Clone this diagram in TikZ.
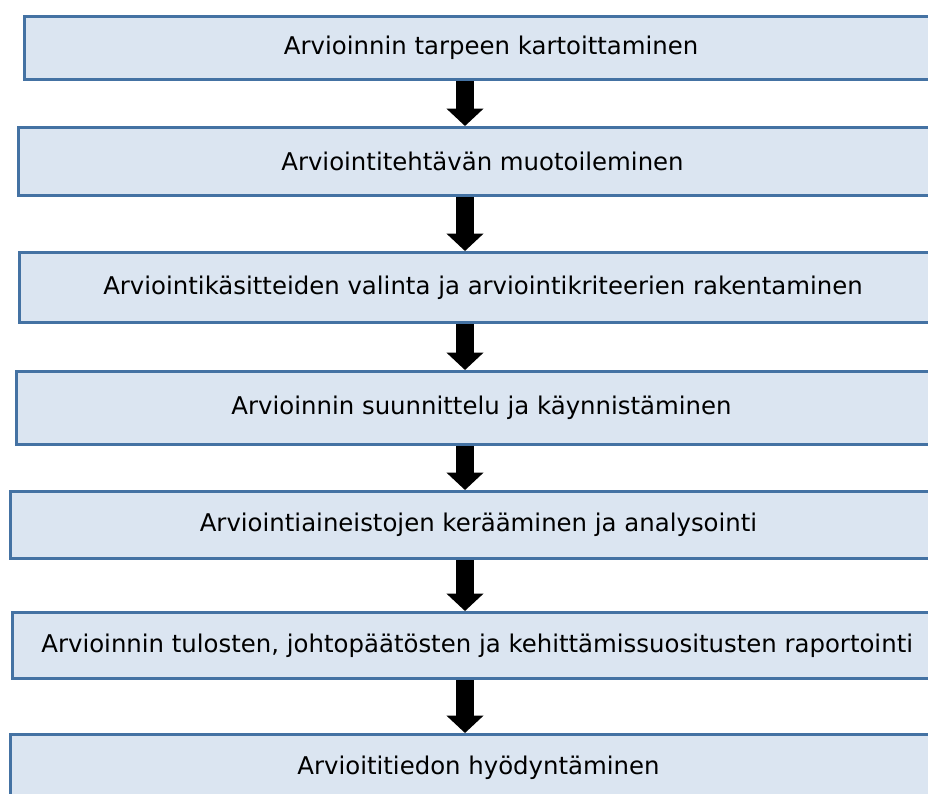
\documentclass[tikz,border=0pt]{standalone}
\usepackage{fontspec}
\setmainfont{DejaVu Sans}
\usetikzlibrary{arrows.meta}
\definecolor{boxfill}{RGB}{219,229,241}
\definecolor{boxline}{RGB}{68,114,163}
\tikzset{every picture/.style={line width=0.75pt}}
\tikzset{
  stagebox/.style={draw=boxline, fill=boxfill, line width=2.25pt, anchor=north west, inner sep=0pt,
    font=\fontsize{18.3}{22}\selectfont},
  flowarrow/.style={line width=13pt, -{Triangle[width=27pt,length=13pt]}}
}

\begin{document}
\begin{tikzpicture}[x=0.75pt,y=0.75pt,yscale=-1,xscale=1]
\useasboundingbox (0,0) rectangle (928,793);
\clip (0,0) rectangle (928,793);

% Stages
\node[stagebox, minimum width=700pt, minimum height=47.25pt] (s1) at (23,15) {Arvioinnin tarpeen kartoittaminen};
\node[stagebox, minimum width=696pt, minimum height=51pt] (s2) at (17,126) {Arviointitehtävän muotoileminen};
\node[stagebox, minimum width=695.25pt, minimum height=52.5pt] (s3) at (18,251) {Arviointikäsitteiden valinta ja arviointikriteerien rakentaminen};
\node[stagebox, minimum width=697.5pt, minimum height=54.75pt] (s4) at (15,370) {Arvioinnin suunnittelu ja käynnistäminen};
\node[stagebox, minimum width=702pt, minimum height=50.25pt] (s5) at (9,490) {Arviointiaineistojen kerääminen ja analysointi};
\node[stagebox, minimum width=697pt, minimum height=49.5pt] (s6) at (11,611) {Arvioinnin tulosten, johtopäätösten ja kehittämissuositusten raportointi};
\node[stagebox, minimum width=702pt, minimum height=50.25pt] (s7) at (9,733) {Arvioititiedon hyödyntäminen};

% Arrows
\coordinate (ax) at (465,0);
\draw[flowarrow] (s1.south -| ax) -- (s2.north -| ax);
\draw[flowarrow] (s2.south -| ax) -- (s3.north -| ax);
\draw[flowarrow] (s3.south -| ax) -- (s4.north -| ax);
\draw[flowarrow] (s4.south -| ax) -- (s5.north -| ax);
\draw[flowarrow] (s5.south -| ax) -- (s6.north -| ax);
\draw[flowarrow] (s6.south -| ax) -- (s7.north -| ax);

\end{tikzpicture}
\end{document}
